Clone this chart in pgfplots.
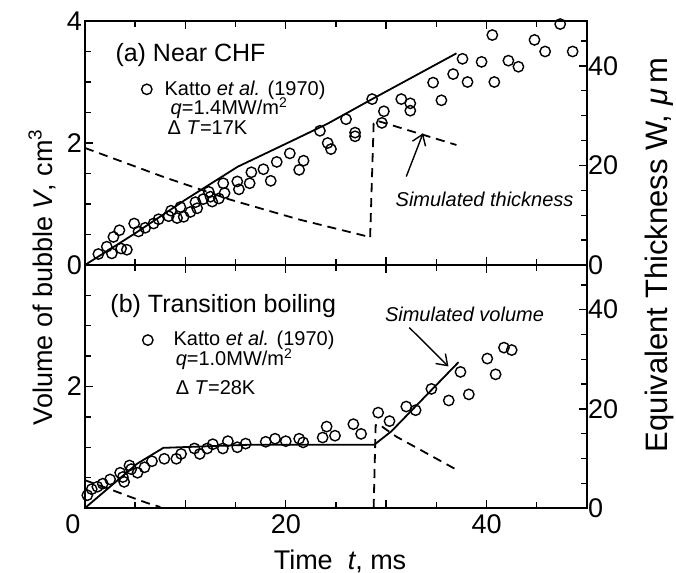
\documentclass[border=0pt]{standalone}
\usepackage{fontspec}
\setmainfont{Liberation Sans}
\usepackage{pgfplots}
\pgfplotsset{compat=1.18}
\usetikzlibrary{arrows.meta}

\pgfplotsset{
  panel/.style={
    scale only axis, width=251pt,
    xmin=0, xmax=50,
    xtick={0,10,...,50}, minor xtick={5,15,...,45},
    tick align=inside,
    major tick length=4pt, minor tick length=3pt,
    tick style={black, line width=0.7pt},
    axis line style={line width=0.9pt},
    /pgf/number format/assume math mode=true,
    tick label style={font=\fontsize{13.5}{15}\selectfont},
    label style={font=\fontsize{13.5}{15}\selectfont},
    clip=false,
  },
  katto/.style={only marks, mark=o, mark size=2.6pt, mark options={line width=0.7pt}, black},
  sim/.style={black, line width=0.9pt, no marks},
  simd/.style={sim, dash pattern=on 4.5pt off 3pt},
  leg/.style={draw=none, fill=none, anchor=west, inner sep=0pt,
    nodes={inner sep=0pt, font=\fontsize{10}{12}\selectfont}},
}
\newcommand{\annot}{\fontsize{10}{12}\selectfont}
\newcommand{\ptitle}{\fontsize{12.5}{14}\selectfont}

\begin{document}
\begin{tikzpicture}
% ---- (b) lower panel, volume
\begin{axis}[panel, at={(0,0)}, anchor=south west, height=121.5pt,
  ymin=0, ymax=4, ytick={0,2}, yticklabels={,2}, minor ytick={0.5,1,1.5,2.5,3,3.5}, ytick pos=left,
  yticklabel style={xshift=2pt},
  xticklabels={,,20,,40,},
  extra x ticks={0}, extra x tick labels={0},
  extra x tick style={tick label style={xshift=-6pt}},
  xlabel={Time\ \ \textit{t}, ms},
  xlabel style={at={(axis description cs:0.508,-0.218)}, anchor=center},
  legend style={leg, at={(axis description cs:0.114,0.691)}, column sep=6.3pt}]
\addplot[katto] coordinates {
(0.23,0.21)(0.67,0.31)(1.23,0.35)(1.77,0.40)(2.5,0.47)(3.5,0.58)(3.77,0.51)
(3.9,0.43)(4.43,0.70)(4.6,0.64)(5.23,0.58)(5.93,0.67)(6.67,0.77)(7.9,0.81)
(9.1,0.81)(9.57,0.89)(10.9,0.98)(11.43,0.89)(12.17,0.98)(12.73,1.05)(13.73,0.98)
(14.23,1.10)(15.17,1.00)(16.0,1.06)(18.0,1.09)(18.93,1.14)(20.0,1.10)(21.33,1.14)
(21.73,1.08)(23.67,1.16)(24.07,1.34)(24.9,1.19)(26.73,1.38)(27.5,1.22)(29.2,1.57)
(30.33,1.43)(32.0,1.67)(32.93,1.61)(34.5,1.96)(36.23,1.77)(37.4,2.24)(38.23,1.87)
(40.07,2.46)(40.9,2.20)(41.73,2.64)(42.5,2.60)};
\addlegendentry{\hspace{4pt}Katto \textit{et al.} (1970)}
\addplot[sim] coordinates {(0,0)(5.2,0.73)(7.8,0.99)(16.2,1.04)(28.8,1.04)(30.5,1.26)(37.2,2.40)};
\node[anchor=west, inner sep=0pt, font=\ptitle] at (axis cs:2.5,3.33) {(b) Transition boiling};
\node[anchor=west, inner sep=0pt, font=\annot] at (axis cs:9.0,2.45) {\textit{q}=1.0MW/m\textsuperscript{2}};
\node[anchor=west, inner sep=0pt, font=\annot] at (axis cs:9.0,1.98) {Δ \textit{T}=28K};
\node[font=\annot\itshape] at (axis cs:37.8,3.19) {Simulated volume};
\draw[-{Straight Barb[length=5pt,width=7pt]}, line width=0.7pt] (axis cs:32.3,2.97) -- (axis cs:36.2,2.33);
\end{axis}
% ---- (b) lower panel, thickness
\begin{axis}[panel, at={(0,0)}, anchor=south west, height=121.5pt,
  ymin=0, ymax=49, axis y line*=right, axis x line=none,
  ytick={0,20,40}, minor ytick={5,10,15,25,30,35,45},
  yticklabel style={xshift=-3pt}]
\addplot[simd] coordinates {(0,5.6)(2.2,4.0)(4.3,2.4)(6.2,1.0)(7.5,0.2)};
\addplot[simd] coordinates {(28.75,0)(28.95,16.7)(29.3,16.9)(29.8,16.1)(31,14.4)(37.2,7.5)};
\end{axis}
% ---- (a) upper panel, volume
\begin{axis}[panel, at={(0,121.5pt)}, anchor=south west, height=122pt,
  ymin=0, ymax=4, ytick={0,2,4}, minor ytick={0.5,1,1.5,2.5,3,3.5}, ytick pos=left,
  yticklabel style={xshift=2pt},
  xticklabel=\empty,
  ylabel={Volume of bubble \textit{V}, cm\textsuperscript{3}},
  ylabel style={at={(axis description cs:-0.0857,-0.049)}, anchor=center},
  legend style={leg, at={(axis description cs:0.112,0.72)}, column sep=6.3pt}]
\addplot[katto] coordinates {
(1.33,0.18)(2.17,0.30)(2.67,0.19)(2.83,0.46)(3.43,0.57)(3.6,0.27)(4.17,0.25)
(4.9,0.68)(5.33,0.55)(6.0,0.61)(6.83,0.68)(7.33,0.75)(8.33,0.80)(8.57,0.89)
(9.17,0.77)(9.5,0.95)(9.83,0.79)(10.5,0.87)(11.0,1.03)(11.17,0.93)(11.77,1.08)
(12.33,1.20)(12.5,1.12)(12.67,1.04)(13.33,1.09)(13.77,1.34)(13.9,1.18)(15.17,1.37)
(15.33,1.24)(16.4,1.34)(16.57,1.52)(17.77,1.57)(18.5,1.38)(19.1,1.69)(20.4,1.83)
(21.33,1.56)(21.77,1.71)(23.4,2.20)(24.17,2.00)(24.5,1.90)(26.0,2.39)(26.9,2.17)
(26.9,2.11)(28.6,2.72)(29.77,2.52)(29.57,2.33)(31.5,2.72)(32.4,2.65)(32.4,2.53)
(34.67,2.99)(35.5,2.70)(36.67,3.13)(37.6,3.38)(38.1,3.00)(39.5,3.33)(40.57,3.77)
(40.77,3.00)(42.17,3.35)(43.17,3.25)(44.77,3.69)(45.83,3.50)(47.33,3.95)(48.57,3.50)};
\addlegendentry{Katto \textit{et al.} (1970)}
\addplot[sim] coordinates {(0,0)(5,0.52)(10,1.07)(15.2,1.61)(20.8,2.05)(24.2,2.32)(28.6,2.72)(37,3.47)};
\node[anchor=west, inner sep=0pt, font=\ptitle] at (axis cs:3.0,3.44) {(a) Near CHF};
\node[anchor=west, inner sep=0pt, font=\annot] at (axis cs:8.5,2.57) {\textit{q}=1.4MW/m\textsuperscript{2}};
\node[anchor=west, inner sep=0pt, font=\annot] at (axis cs:8.2,2.25) {Δ \textit{T}=17K};
\node[font=\annot\itshape] at (axis cs:39.8,1.07) {Simulated thickness};
\draw[-{Straight Barb[length=5pt,width=7pt]}, line width=0.7pt] (axis cs:32.0,1.45) -- (axis cs:33.67,2.16);
\end{axis}
% ---- (a) upper panel, thickness
\begin{axis}[panel, at={(0,121.5pt)}, anchor=south west, height=122pt,
  ymin=0, ymax=49, axis y line*=right, axis x line=none,
  ytick={0,20,40}, minor ytick={5,10,15,25,30,35,45},
  yticklabel style={xshift=-3pt},
  ylabel={Equivalent Thickness W, \textit{μ}\,m},
  ylabel style={at={(axis description cs:1.145,0.041)}, anchor=center,
    font=\fontsize{15.5}{17}\selectfont}]
\addplot[simd] coordinates {(0,23.5)(7.8,17.7)(14.5,13.1)(21.2,9.2)(28.4,5.6)};
\addplot[simd] coordinates {(28.4,5.6)(28.75,28.4)(29.0,29.0)(29.7,28.6)(37,24.1)};
\end{axis}
\pgfresetboundingbox
\path (-42.5pt,-32.5pt) rectangle (295.5pt,254pt);
\end{tikzpicture}
\end{document}
